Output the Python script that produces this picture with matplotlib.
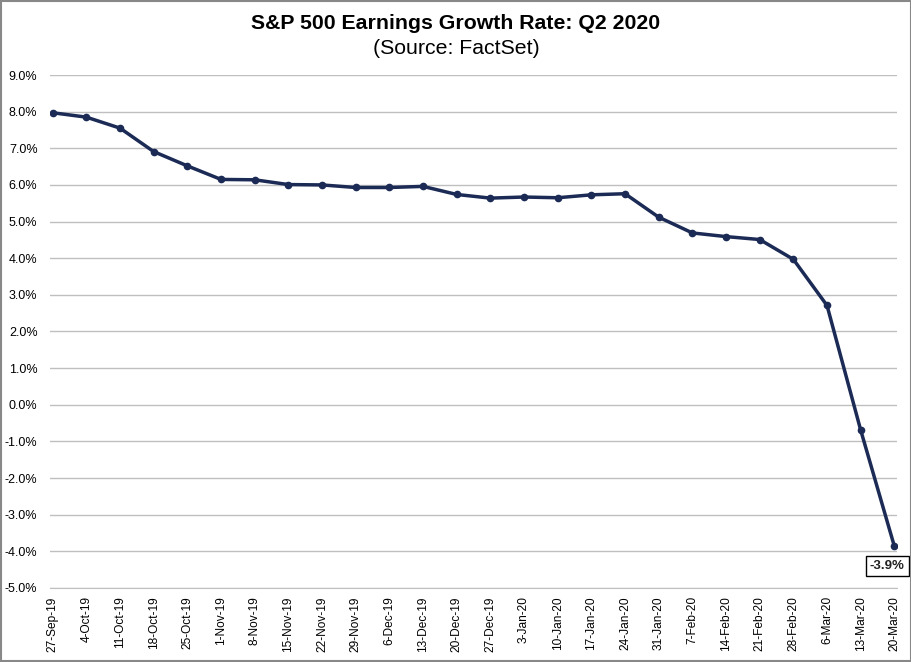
import matplotlib
matplotlib.use('Agg')
import matplotlib.pyplot as plt
from matplotlib.patches import Rectangle
from matplotlib.ticker import FuncFormatter

plt.rcParams['font.family'] = ['Liberation Sans', 'DejaVu Sans']

dates = ['27-Sep-19', '4-Oct-19', '11-Oct-19', '18-Oct-19', '25-Oct-19', '1-Nov-19',
         '8-Nov-19', '15-Nov-19', '22-Nov-19', '29-Nov-19', '6-Dec-19', '13-Dec-19',
         '20-Dec-19', '27-Dec-19', '3-Jan-20', '10-Jan-20', '17-Jan-20', '24-Jan-20',
         '31-Jan-20', '7-Feb-20', '14-Feb-20', '21-Feb-20', '28-Feb-20', '6-Mar-20',
         '13-Mar-20', '20-Mar-20']
growth = [7.97, 7.85, 7.55, 6.91, 6.52, 6.15,
          6.14, 6.01, 6.00, 5.93, 5.93, 5.96,
          5.74, 5.64, 5.67, 5.65, 5.73, 5.76,
          5.12, 4.69, 4.59, 4.51, 3.97, 2.71,
          -0.69, -3.86]
last_label = '-3.9%'

navy = '#1c2b55'

fig = plt.figure(figsize=(9.12, 6.62), dpi=100)
ax = fig.add_axes([0.0548, 0.1118, 0.9288, 0.7749])

x = list(range(len(dates)))
ax.plot(x, growth, color=navy, linewidth=2.5, marker='o', markersize=4.5,
        markerfacecolor=navy, markeredgecolor=navy, zorder=3)

ax.set_ylim(-5, 9)
ax.set_yticks(range(-5, 10))
ax.yaxis.set_major_formatter(FuncFormatter(lambda v, p: '%.1f%%' % v))
ax.set_xlim(-0.08, len(dates) - 1 + 0.08)
ax.set_xticks(x)
ax.set_xticklabels(dates, rotation=90, fontsize=8.6)
ax.tick_params(axis='y', labelsize=9, length=0, pad=9)
ax.tick_params(axis='x', length=0, pad=6)

ax.yaxis.grid(True, color='#bfbfbf', linewidth=1)
ax.set_axisbelow(True)
for s in ax.spines.values():
    s.set_visible(False)
ax.spines['bottom'].set_visible(True)
ax.spines['bottom'].set_color('#bfbfbf')

ax.annotate(last_label, xy=(x[-1], growth[-1]), xytext=(-5, -14),
            textcoords='offset points', ha='center', va='center',
            fontsize=9.5, fontweight='bold', color='#222222',
            bbox=dict(boxstyle='square,pad=0.3', facecolor='white',
                      edgecolor='black', linewidth=1))

fig.text(0.5, 0.965, 'S&P 500 Earnings Growth Rate: Q2 2020', ha='center', va='center',
         fontsize=15.3, fontweight='bold')
fig.text(0.5, 0.926, '(Source: FactSet)', ha='center', va='center', fontsize=15.3)

fig.patches.append(Rectangle((0.001, 0.001), 0.998, 0.998, transform=fig.transFigure,
                             fill=False, edgecolor='#888888', linewidth=1.5))

fig.savefig('out.png', dpi=100)
